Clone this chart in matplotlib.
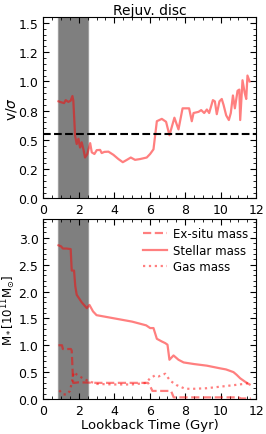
import matplotlib
matplotlib.use('Agg')
import matplotlib.pyplot as plt
from matplotlib.ticker import MultipleLocator, FormatStrFormatter

# v/sigma history
t_v = [0.85, 1.04, 1.17, 1.26, 1.41, 1.54, 1.64, 1.69, 1.79, 1.88, 1.98, 2.07, 2.16, 2.26,
       2.35, 2.48, 2.64, 2.73, 2.88, 3.01, 3.2, 3.29, 3.44, 3.67, 3.95, 4.23, 4.48, 4.71,
       4.93, 5.17, 5.46, 5.83, 6.02, 6.21, 6.40, 6.68, 6.92, 7.11, 7.39, 7.62, 7.85, 8.22,
       8.37, 8.47, 8.75, 8.90, 9.07, 9.22, 9.35, 9.56, 9.67, 9.78, 9.93, 10.06, 10.16,
       10.31, 10.46, 10.57, 10.69, 10.80, 10.95, 11.05, 11.10, 11.23, 11.35, 11.44,
       11.51, 11.63]
vsig = [0.83, 0.82, 0.815, 0.84, 0.825, 0.835, 0.875, 0.835, 0.535, 0.465, 0.51, 0.435,
        0.48, 0.42, 0.35, 0.38, 0.473, 0.394, 0.38, 0.413, 0.415, 0.388, 0.398, 0.40,
        0.373, 0.337, 0.31, 0.33, 0.35, 0.33, 0.337, 0.35, 0.38, 0.42, 0.66, 0.68, 0.655,
        0.54, 0.69, 0.59, 0.77, 0.77, 0.66, 0.73, 0.74, 0.755, 0.73, 0.76, 0.73, 0.84,
        0.83, 0.72, 0.83, 0.85, 0.80, 0.71, 0.67, 0.73, 0.88, 0.77, 0.92, 0.93, 0.67, 1.01,
        0.905, 0.85, 1.05, 1.00]
vsig_crit = 0.555

# masses (1e11 Msun)
t_s = [0.85, 1.0, 1.1, 1.3, 1.54, 1.6, 1.73, 1.8, 1.88, 2.16, 2.45, 2.6, 2.8, 3.0, 3.5,
       4.0, 4.5, 5.0, 5.46, 5.8, 6.02, 6.21, 6.40, 6.68, 6.87, 7.0, 7.11, 7.34, 7.62, 7.91,
       8.5, 9.22, 9.97, 10.3, 10.72, 10.9, 11.1, 11.38, 11.63]
m_star = [2.86, 2.84, 2.80, 2.80, 2.79, 2.39, 2.39, 2.10, 1.94, 1.80, 1.69, 1.75, 1.63,
          1.56, 1.53, 1.50, 1.47, 1.44, 1.40, 1.37, 1.32, 1.32, 1.12, 1.07, 1.04, 1.01,
          0.73, 0.81, 0.73, 0.68, 0.65, 0.62, 0.57, 0.55, 0.50, 0.45, 0.385, 0.32, 0.27]

t_x = [0.85, 1.05, 1.1, 1.55, 1.6, 1.68, 1.75, 2.0, 3.0, 4.0, 5.0, 5.9, 6.05, 6.15, 7.0,
       7.2, 7.35, 8.0, 9.0, 10.0, 11.0, 11.15, 11.7]
m_exsitu = [1.0, 1.0, 0.93, 0.93, 0.90, 0.30, 0.30, 0.31, 0.30, 0.30, 0.30, 0.30, 0.22,
            0.15, 0.15, 0.15, 0.03, 0.03, 0.03, 0.03, 0.03, 0.01, 0.01]

t_g = [0.9, 1.1, 1.3, 1.5, 1.6, 1.72, 1.9, 2.2, 2.5, 3.0, 4.0, 5.0, 5.8, 6.0, 6.3, 6.5,
       6.87, 7.15, 7.5, 8.0, 8.5, 9.2, 10.0, 10.8, 11.3, 11.65]
m_gas = [0.16, 0.09, 0.08, 0.15, 0.30, 0.50, 0.45, 0.39, 0.34, 0.28, 0.27, 0.27, 0.30,
         0.38, 0.44, 0.42, 0.47, 0.34, 0.26, 0.19, 0.19, 0.20, 0.23, 0.26, 0.28, 0.30]

span = (0.85, 2.5)

fig = plt.figure(figsize=(2.66, 4.35), dpi=100)
ax1 = fig.add_axes([0.163, 0.5414, 0.80, 0.4172])
ax2 = fig.add_axes([0.163, 0.0805, 0.80, 0.4138])

for ax in (ax1, ax2):
    ax.axvspan(span[0], span[1], facecolor='k', edgecolor='grey', alpha=0.5, lw=1, zorder=1)
    ax.set_xlim(0, 12)
    ax.xaxis.set_major_locator(MultipleLocator(2))
    ax.xaxis.set_minor_locator(MultipleLocator(0.5))
    ax.tick_params(which='both', direction='in', top=True, right=True, labelsize=9)
    ax.tick_params(which='major', length=4)
    ax.tick_params(which='minor', length=2)

ax1.plot(t_v, vsig, color='r', alpha=0.5, lw=1.6, zorder=2)
ax1.axhline(vsig_crit, color='k', ls='--', lw=1.5, zorder=3)
ax1.set_ylim(0, 1.55)
ax1.yaxis.set_major_locator(MultipleLocator(0.25))
ax1.yaxis.set_minor_locator(MultipleLocator(0.05))
ax1.yaxis.set_major_formatter(FormatStrFormatter('%.1f'))
ax1.set_ylabel(r'v/$\sigma$', fontsize=10, va='center')
ax1.yaxis.set_label_coords(-0.152, 0.5)
ax1.set_title('Rejuv. disc', fontsize=10, pad=2)

ax2.plot(t_x, m_exsitu, color='r', alpha=0.5, lw=1.6, ls='--', label='Ex-situ mass', zorder=2)
ax2.plot(t_s, m_star, color='r', alpha=0.5, lw=1.6, label='Stellar mass', zorder=2)
ax2.plot(t_g, m_gas, color='r', alpha=0.5, lw=1.6, ls=':', label='Gas mass', zorder=2)
ax2.set_ylim(0, 3.35)
ax2.yaxis.set_major_locator(MultipleLocator(0.5))
ax2.yaxis.set_minor_locator(MultipleLocator(0.1))
ax2.yaxis.set_major_formatter(FormatStrFormatter('%.1f'))
ax2.set_ylabel(r'M$_*$[10$^{11}$M$_{\odot}$]', fontsize=8.5, va='center')
ax2.yaxis.set_label_coords(-0.162, 0.5)
ax2.set_xlabel('Lookback Time (Gyr)', fontsize=9.5, labelpad=1)
ax2.legend(loc='upper right', frameon=False, fontsize=8.5, handlelength=2.0,
           handletextpad=0.5, borderaxespad=0.3, labelspacing=0.3)

fig.savefig('out.png', dpi=100)
